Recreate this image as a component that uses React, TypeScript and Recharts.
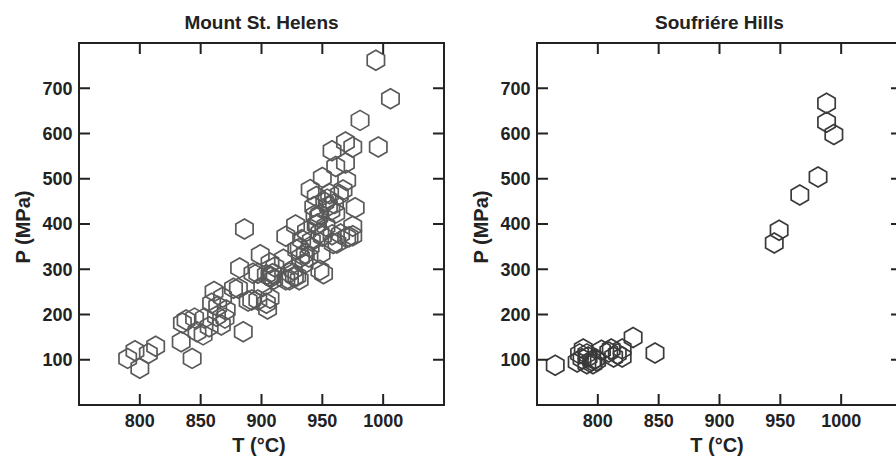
import { ScatterChart, Scatter, XAxis, YAxis } from "recharts";

const xTicks = [800, 850, 900, 950, 1000];
const yTicks = [100, 200, 300, 400, 500, 600, 700];

// Mount St. Helens, T (°C) and P (MPa)
const helensT = [
  790, 796, 800, 807, 813, 834, 835, 838, 843, 845, 847, 852, 853, 857, 859,
  861, 863, 864, 867, 870, 871, 868, 877, 881, 882, 885, 886, 889, 892, 893,
  897, 897, 899, 901, 904, 904, 905, 907, 907, 908, 909, 910, 907, 911, 918,
  920, 920, 923, 923, 926, 927, 928, 929, 929, 931, 931, 932, 933, 935, 936,
  937, 939, 940, 940, 941, 943, 944, 945, 945, 946, 947, 948, 948, 948, 949,
  950, 950, 951, 952, 953, 954, 955, 956, 957, 958, 958, 959, 960, 961, 961,
  962, 964, 965, 967, 969, 969, 970, 970, 972, 975, 975, 975, 977, 981, 994,
  996, 1006,
];
const helensP = [
  103, 120, 81, 114, 130, 140, 181, 188, 103, 192, 162, 155, 192, 173, 225,
  251, 196, 218, 177, 192, 210, 238, 258, 258, 303, 162, 389, 230, 232, 291,
  232, 291, 332, 262, 225, 288, 212, 236, 285, 283, 290, 278, 314, 305, 322,
  373, 277, 277, 292, 299, 284, 398, 285, 343, 277, 346, 326, 365, 312, 335,
  384, 327, 350, 476, 363, 438, 420, 461, 398, 400, 416, 421, 380, 298, 335,
  503, 373, 290, 448, 395, 455, 440, 467, 430, 562, 376, 357, 445, 527, 424,
  358, 465, 378, 475, 581, 535, 496, 370, 372, 570, 395, 374, 436, 629, 762,
  570, 677,
];

// Soufriére Hills
const soufT = [
  765, 783, 785, 788, 787, 791, 792, 795, 798, 796, 799, 791, 803, 809, 811,
  813, 816, 820, 820, 829, 847, 945, 949, 966, 981, 988, 988, 994,
];
const soufP = [
  88, 95, 113, 124, 102, 91, 106, 98, 102, 91, 98, 113, 121, 117, 124, 106,
  113, 124, 106, 149, 115, 358, 386, 464, 504, 667, 625, 598,
];

const INK = "#222";
const FONT = "'Liberation Sans', Arial, Helvetica, sans-serif";

// plot box inside each panel
const PL = 79;
const PR = 444;
const PT = 43;
const PB = 405;
const TICK = 11;

function Hex(props: any) {
  const { cx, cy, stroke } = props;
  if (cx == null || cy == null) return null;
  const r = 10;
  const pts = [-90, -30, 30, 90, 150, 210]
    .map((a) => {
      const rad = (a * Math.PI) / 180;
      return `${cx + r * Math.cos(rad)},${cy + r * Math.sin(rad)}`;
    })
    .join(" ");
  return <polygon points={pts} fill="none" stroke={stroke} strokeWidth={1.7} />;
}

// inward tick marks on the bottom and top edges, label under the frame
function XTick(props: any) {
  const { x, payload } = props;
  return (
    <g>
      <path
        d={`M${x},${PB}V${PB - TICK}M${x},${PT}V${PT + TICK}`}
        fill="none"
        stroke={INK}
        strokeWidth={2}
      />
      <text
        x={x}
        y={427}
        textAnchor="middle"
        fontSize={18}
        fontWeight={700}
        fontFamily={FONT}
        fill={INK}
      >
        {payload.value}
      </text>
    </g>
  );
}

// inward tick marks on the left and right edges
function YTick(props: any) {
  const { y, payload } = props;
  return (
    <g>
      <path
        d={`M${PL},${y}H${PL + TICK}M${PR},${y}H${PR - TICK}`}
        fill="none"
        stroke={INK}
        strokeWidth={2}
      />
      <text
        x={PL - 6.5}
        y={y}
        dy="0.36em"
        textAnchor="end"
        fontSize={18}
        fontWeight={700}
        fontFamily={FONT}
        fill={INK}
      >
        {payload.value}
      </text>
    </g>
  );
}

interface PanelProps {
  title: string;
  ts: number[];
  ps: number[];
  color: string;
  left: number;
}

function Panel({ title, ts, ps, color, left }: PanelProps) {
  const data = ts.map((t, i) => ({ t, p: ps[i] }));
  return (
    <div style={{ position: "absolute", left, top: 0, width: 460, height: 456 }}>
      <ScatterChart
        width={460}
        height={456}
        margin={{ top: PT, right: 460 - PR, bottom: 0, left: 0 }}
      >
        <XAxis
          type="number"
          dataKey="t"
          domain={[750, 1050]}
          ticks={xTicks}
          interval={0}
          allowDataOverflow
          height={456 - PB}
          axisLine={false}
          tickLine={false}
          tickSize={0}
          tick={<XTick />}
        />
        <YAxis
          type="number"
          dataKey="p"
          domain={[0, 800]}
          ticks={yTicks}
          interval={0}
          allowDataOverflow
          width={PL}
          axisLine={false}
          tickLine={false}
          tickSize={0}
          tick={<YTick />}
        />
        <Scatter
          data={data}
          stroke={color}
          shape={<Hex stroke={color} />}
          isAnimationActive={false}
        />
      </ScatterChart>
      <svg
        width={460}
        height={456}
        style={{ position: "absolute", left: 0, top: 0, pointerEvents: "none" }}
      >
        <rect
          x={PL}
          y={PT}
          width={PR - PL}
          height={PB - PT}
          fill="none"
          stroke={INK}
          strokeWidth={2}
        />
        <g fontFamily={FONT} fontWeight={700} fill={INK}>
          <text x={261.5} y={28.5} fontSize={19} textAnchor="middle">
            {title}
          </text>
          <text x={259} y={451.5} fontSize={20} textAnchor="middle">
            T (°C)
          </text>
          <text
            x={0}
            y={0}
            fontSize={20}
            textAnchor="middle"
            transform="translate(30 227) rotate(-90)"
          >
            P (MPa)
          </text>
        </g>
      </svg>
    </div>
  );
}

export default function App() {
  return (
    <div
      style={{
        position: "fixed",
        left: 0,
        top: 0,
        width: 896,
        height: 456,
        overflow: "hidden",
        background: "#fff",
      }}
    >
      <Panel title="Mount St. Helens" ts={helensT} ps={helensP} color="#5a5a5a" left={0} />
      <Panel title="Soufriére Hills" ts={soufT} ps={soufP} color="#3a3a3a" left={458} />
    </div>
  );
}
